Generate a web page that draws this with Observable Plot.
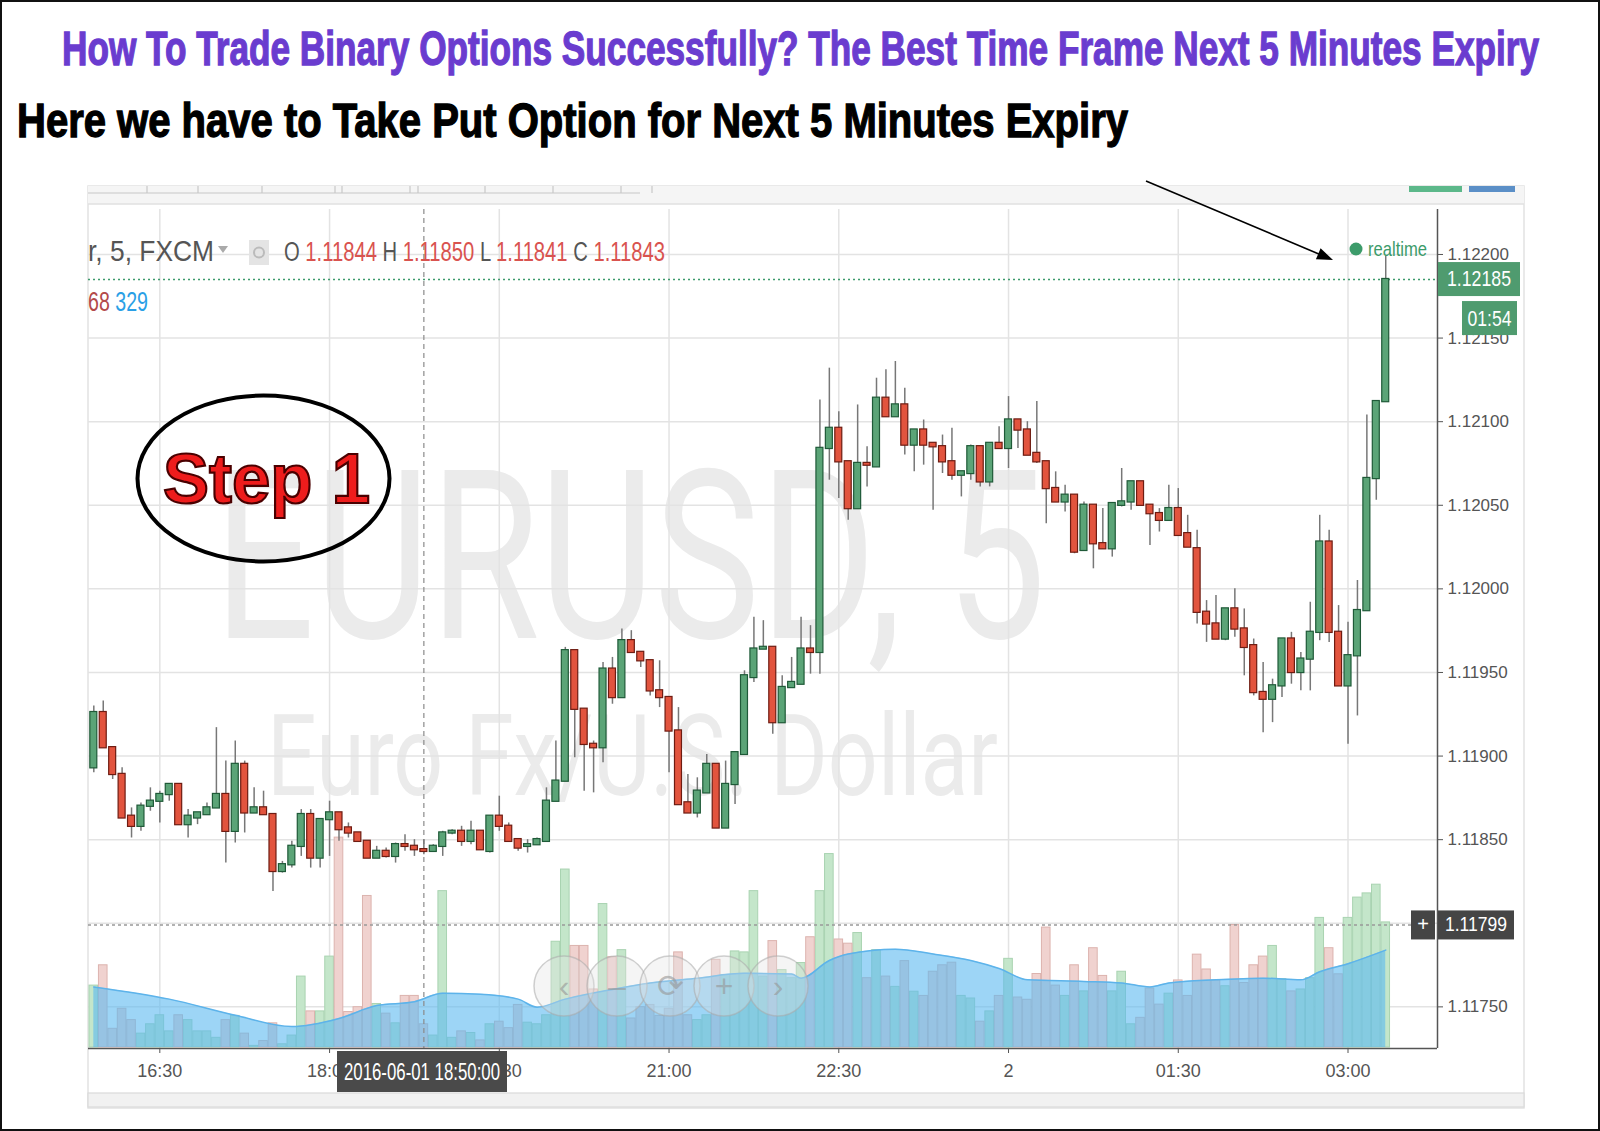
<!DOCTYPE html>
<html><head><meta charset="utf-8">
<script src="https://cdn.jsdelivr.net/npm/d3@7"></script>
<script src="https://cdn.jsdelivr.net/npm/@observablehq/plot@0.6"></script>
<style>
html,body{margin:0;padding:0;background:#fff;}
#page{position:relative;width:1600px;height:1131px;overflow:hidden;background:#fff;font-family:"Liberation Sans",Arial,sans-serif;}
.layer{position:absolute;left:0;top:0;}
</style></head><body><div id="page"></div>
<script>
// ---------- DATA ----------
const titleText = "How To Trade Binary Options Successfully? The Best Time Frame Next 5 Minutes Expiry";
const subtitleText = "Here we have to Take Put Option for Next 5 Minutes Expiry";
const symbolText = "r, 5, FXCM";
const watermark1 = "EURUSD, 5";
const watermark2 = "Euro Fx/U.S. Dollar";
const firstBar = "2016-06-01T15:55:00Z"; // 5-minute bars
const open = [1.11893,1.11926,1.11905,1.11889,1.11864,1.11858,1.11870,1.11873,1.11877,1.11883,
1.11859,1.11863,1.11865,1.11869,1.11877,1.11855,1.11895,1.11866,1.11869,1.11865,
1.11831,1.11835,1.11846,1.11865,1.11839,1.11862,1.11866,1.11857,1.11854,1.11849,
1.11839,1.11843,1.11840,1.11847,1.11846,1.11844,1.11843,1.11846,1.11854,1.11855,
1.11849,1.11855,1.11843,1.11864,1.11858,1.11850,1.11846,1.11847,1.11849,1.11873,
1.11885,1.11963,1.11928,1.11907,1.11905,1.11952,1.11935,1.11969,1.11962,1.11957,
1.11939,1.11935,1.11915,1.11872,1.11866,1.11878,1.11895,1.11857,1.11883,1.11901,
1.11947,1.11964,1.11965,1.11920,1.11941,1.11943,1.11964,1.11962,1.12084,1.12096,
1.12076,1.12048,1.12075,1.12073,1.12114,1.12103,1.12110,1.12086,1.12095,1.12087,
1.12085,1.12076,1.12068,1.12069,1.12085,1.12064,1.12087,1.12084,1.12101,1.12095,
1.12081,1.12076,1.12060,1.12052,1.12056,1.12023,1.12050,1.12027,1.12024,1.12050,
1.12052,1.12064,1.12050,1.12045,1.12041,1.12048,1.12033,1.12024,1.11986,1.11979,
1.11970,1.11988,1.11976,1.11966,1.11938,1.11934,1.11942,1.11970,1.11950,1.11958,
1.11974,1.12028,1.11974,1.11942,1.11960,1.11987,1.12066,1.12112];
const high = [1.11930,1.11933,1.11905,1.11893,1.11869,1.11872,1.11881,1.11879,1.11883,1.11883,
1.11868,1.11866,1.11872,1.11917,1.11897,1.11909,1.11897,1.11881,1.11879,1.11865,
1.11837,1.11849,1.11868,1.11868,1.11862,1.11873,1.11866,1.11860,1.11854,1.11849,
1.11846,1.11845,1.11848,1.11853,1.11850,1.11850,1.11847,1.11855,1.11856,1.11858,
1.11861,1.11855,1.11864,1.11876,1.11860,1.11850,1.11850,1.11851,1.11881,1.11909,
1.11965,1.11963,1.11928,1.11909,1.11956,1.11959,1.11976,1.11975,1.11962,1.11957,
1.11957,1.11935,1.11929,1.11889,1.11887,1.11901,1.11895,1.11897,1.11902,1.11951,
1.11983,1.11981,1.11965,1.11948,1.11959,1.11983,1.11978,1.12113,1.12132,1.12106,
1.12076,1.12110,1.12085,1.12126,1.12131,1.12136,1.12120,1.12095,1.12101,1.12087,
1.12092,1.12096,1.12070,1.12086,1.12085,1.12087,1.12097,1.12115,1.12101,1.12100,
1.12112,1.12076,1.12070,1.12062,1.12056,1.12052,1.12050,1.12048,1.12051,1.12072,
1.12064,1.12064,1.12050,1.12048,1.12062,1.12060,1.12044,1.12035,1.11993,1.11996,
1.11988,1.12000,1.11988,1.11970,1.11956,1.11946,1.11970,1.11974,1.11962,1.11992,
1.12044,1.12035,1.11990,1.11980,1.12005,1.12104,1.12112,1.12199];
const low = [1.11890,1.11905,1.11886,1.11863,1.11851,1.11855,1.11867,1.11860,1.11873,1.11859,
1.11851,1.11859,1.11865,1.11869,1.11836,1.11848,1.11854,1.11866,1.11865,1.11819,
1.11830,1.11833,1.11840,1.11833,1.11833,1.11840,1.11849,1.11851,1.11849,1.11839,
1.11839,1.11839,1.11836,1.11843,1.11840,1.11841,1.11843,1.11840,1.11853,1.11846,
1.11847,1.11844,1.11842,1.11855,1.11849,1.11843,1.11842,1.11847,1.11849,1.11873,
1.11885,1.11899,1.11879,1.11878,1.11896,1.11931,1.11935,1.11962,1.11953,1.11936,
1.11929,1.11890,1.11871,1.11866,1.11863,1.11878,1.11857,1.11857,1.11871,1.11901,
1.11944,1.11964,1.11913,1.11920,1.11941,1.11943,1.11949,1.11949,1.12065,1.12054,
1.12041,1.12048,1.12061,1.12073,1.12103,1.12103,1.12080,1.12070,1.12074,1.12047,
1.12069,1.12065,1.12055,1.12065,1.12061,1.12061,1.12084,1.12072,1.12084,1.12080,
1.12075,1.12039,1.12052,1.12046,1.12021,1.12023,1.12012,1.12024,1.12019,1.12049,
1.12047,1.12050,1.12026,1.12034,1.12041,1.12032,1.12025,1.11979,1.11968,1.11970,
1.11969,1.11971,1.11948,1.11936,1.11914,1.11920,1.11935,1.11943,1.11939,1.11939,
1.11969,1.11968,1.11942,1.11907,1.11924,1.11987,1.12053,1.12112];
const close = [1.11926,1.11905,1.11889,1.11863,1.11858,1.11870,1.11873,1.11877,1.11883,1.11859,
1.11864,1.11866,1.11869,1.11877,1.11855,1.11895,1.11866,1.11869,1.11865,1.11831,
1.11835,1.11846,1.11865,1.11839,1.11862,1.11866,1.11856,1.11854,1.11849,1.11839,
1.11843,1.11840,1.11847,1.11846,1.11844,1.11843,1.11846,1.11854,1.11855,1.11849,
1.11855,1.11844,1.11864,1.11858,1.11849,1.11845,1.11847,1.11850,1.11873,1.11885,
1.11963,1.11928,1.11907,1.11905,1.11952,1.11935,1.11969,1.11962,1.11957,1.11939,
1.11935,1.11915,1.11871,1.11866,1.11879,1.11895,1.11857,1.11883,1.11902,1.11948,
1.11964,1.11965,1.11920,1.11941,1.11944,1.11964,1.11962,1.12084,1.12096,1.12076,
1.12048,1.12075,1.12074,1.12114,1.12103,1.12110,1.12086,1.12095,1.12086,1.12085,
1.12076,1.12068,1.12070,1.12085,1.12064,1.12087,1.12084,1.12101,1.12095,1.12080,
1.12076,1.12060,1.12052,1.12056,1.12022,1.12050,1.12027,1.12024,1.12051,1.12052,
1.12064,1.12050,1.12045,1.12041,1.12048,1.12032,1.12025,1.11986,1.11979,1.11970,
1.11988,1.11976,1.11965,1.11938,1.11934,1.11942,1.11970,1.11950,1.11958,1.11974,
1.12028,1.11974,1.11942,1.11960,1.11987,1.12066,1.12112,1.12185];
const volume = [192,255,58,120,85,43,72,100,50,100,
85,50,50,30,85,98,43,5,20,75,
10,37,220,112,112,282,651,110,125,470,
135,105,75,160,160,72,37,485,30,50,
45,22,72,80,60,132,77,72,100,328,
552,315,315,180,445,280,302,90,125,132,
98,120,295,100,85,100,272,225,298,295,
485,220,330,240,215,262,342,485,600,335,
322,355,215,302,220,188,268,173,160,235,
255,263,160,152,80,112,160,275,155,148,
228,372,192,160,255,174,308,222,174,235,
72,92,183,133,167,208,160,288,242,208,
190,380,200,255,282,315,212,174,180,215,
402,308,227,402,465,478,505,388];
// volume moving average, read at selected bars (bar number, value)
const maBar = [0,8,15,21,26,30,34,37,41,45,47,50,55,59,64,69,74,75,78,80,85,89,93,96,99,105,109,112,114,119,124,128,130,133,137];
const maValue = [188,150,100,65,90,130,142,168,165,150,125,150,180,200,215,230,228,215,270,290,305,290,270,245,210,205,200,188,200,210,215,210,235,260,302];
const yTicks = [1.1175,1.118,1.1185,1.119,1.1195,1.12,1.1205,1.121,1.1215,1.122];
const xTickTimes = ["2016-06-01T16:30Z","2016-06-01T18:00Z","2016-06-01T19:30Z","2016-06-01T21:00Z","2016-06-01T22:30Z","2016-06-02T00:00Z","2016-06-02T01:30Z","2016-06-02T03:00Z"];
const xTickLabels = ["16:30","18:00","19:30","21:00","22:30","2","01:30","03:00"];
const crossBar = 35;            // crosshair bar (18:50)
const crossPrice = 1.11799;
const crossLabel = "2016-06-01 18:50:00";
const countdown = "01:54";
const studyValues = ["68","329"];

// ---------- BUILD ----------
const t0 = new Date(firstBar).getTime();
const bars = open.map((o,i)=>({t:new Date(t0+i*300000), o, h:high[i], l:low[i], c:close[i], v:volume[i]}));
const up = bars.filter(d=>d.c>=d.o), down = bars.filter(d=>d.c<d.o);
const ma = maBar.map((b,i)=>({t:new Date(t0+b*300000), v:maValue[i]}));
const xTicks = xTickTimes.map(s=>new Date(s));
const labelOf = new Map(xTicks.map((d,i)=>[+d, xTickLabels[i]]));
const xDomain = [new Date("2016-06-01T15:52:11Z"), new Date("2016-06-02T03:47:27Z")];
const yDomain = [1.117251, 1.122269];
const f5 = d3.format(".5f");
const half = 111000, vhalf = 137000;
const font = '"Liberation Sans", Arial, sans-serif';
const page = document.getElementById("page");
const base = {width:1600, height:1131, marginLeft:88, marginRight:163, marginTop:209, marginBottom:83,
  style:{background:"transparent", fontFamily:font, overflow:"visible"}};
function addLayer(node){ const d=document.createElement("div"); d.className="layer"; d.appendChild(node); page.appendChild(d); }
function addSvg(str){ const d=document.createElement("div"); d.className="layer"; d.innerHTML=str; page.appendChild(d); }

// background layer
addSvg(`<svg width="1600" height="1131" font-family='${font}'>
<rect x="0" y="0" width="1600" height="1131" fill="#fff"/>
<rect x="88" y="186" width="1436" height="922" fill="#fff" stroke="#e2e2e2" stroke-width="1.5"/>
<rect x="88" y="186" width="1436" height="18" fill="#f5f5f5"/>
<line x1="88" y1="204" x2="1524" y2="204" stroke="#e0e0e0" stroke-width="1.5"/>
<path d="M88,193 H640 M147,186 V193 M198,186 V193 M262,186 V193 M335,186 V193 M342,186 V193 M410,186 V193 M418,186 V193 M485,186 V193 M553,186 V193 M621,186 V193 M652,186 V193" stroke="#c8c8c8" fill="none" stroke-width="1.2"/>
<rect x="1409" y="186" width="53" height="6" fill="#5cb88a"/>
<rect x="1469" y="186" width="46" height="6" fill="#5b8fc7"/>
<text x="214" y="638" font-family="Roboto, sans-serif" font-size="235" fill="#ebebeb" textLength="832" lengthAdjust="spacingAndGlyphs">${watermark1}</text>
<text x="267" y="795" font-family="Roboto, sans-serif" font-size="113" fill="#ebebeb" textLength="731" lengthAdjust="spacingAndGlyphs">${watermark2}</text>
</svg>`);

// grid layer
addLayer(Plot.plot({...base, x:{type:"utc", domain:xDomain, axis:null}, y:{domain:yDomain, axis:null},
  marks:[
    Plot.gridX(xTicks, {stroke:"#e3e3e3", strokeOpacity:1, strokeWidth:1.5}),
    Plot.gridY(yTicks, {stroke:"#e3e3e3", strokeOpacity:1, strokeWidth:1.5})
  ]}));

// volume layer
addLayer(Plot.plot({...base, marginTop:724.6, marginBottom:84,
  x:{type:"utc", domain:xDomain, axis:null}, y:{domain:[0,1000], axis:null},
  marks:[
    Plot.rect(up, {x1:d=>new Date(+d.t-vhalf), x2:d=>new Date(+d.t+vhalf), y1:()=>0, y2:"v", fill:"#c4e6ca", stroke:"#a9d3b1", strokeWidth:1}),
    Plot.rect(down, {x1:d=>new Date(+d.t-vhalf), x2:d=>new Date(+d.t+vhalf), y1:()=>0, y2:"v", fill:"#f0d2cf", stroke:"#dcb3ae", strokeWidth:1}),
    Plot.areaY(ma, {x:"t", y:"v", curve:"monotone-x", fill:"#5cb9f0", fillOpacity:0.6}),
    Plot.lineY(ma, {x:"t", y:"v", curve:"monotone-x", stroke:"#5db3ea", strokeWidth:1.5})
  ]}));

// price layer
const crossT = bars[crossBar].t;
const last = bars[bars.length-1];
addLayer(Plot.plot({...base, x:{type:"utc", domain:xDomain}, y:{domain:yDomain},
  marks:[
    Plot.ruleX([crossT], {stroke:"#8a8a8a", strokeDasharray:"5,4", strokeWidth:1.2}),
    Plot.ruleY([crossPrice], {stroke:"#999", strokeDasharray:"3,3", strokeWidth:1.5}),
    Plot.ruleY([last.c], {stroke:"#3d9a6c", strokeDasharray:"2,3", strokeWidth:1.5}),
    Plot.ruleX(bars, {x:"t", y1:"l", y2:"h", stroke:"#777", strokeWidth:1.5}),
    Plot.rect(up, {x1:d=>new Date(+d.t-half), x2:d=>new Date(+d.t+half), y1:"o", y2:"c", fill:"#5ba477", stroke:"#1f5a38", strokeWidth:1.2, insetTop:-0.6, insetBottom:-0.6}),
    Plot.rect(down, {x1:d=>new Date(+d.t-half), x2:d=>new Date(+d.t+half), y1:"o", y2:"c", fill:"#e2543e", stroke:"#6e1c12", strokeWidth:1.2, insetTop:-0.6, insetBottom:-0.6}),
    Plot.ruleY([yDomain[0]], {stroke:"#555", strokeWidth:1.5}),
    Plot.ruleX([xDomain[1]], {stroke:"#555", strokeWidth:1.5}),
    Plot.axisY(yTicks, {anchor:"right", tickFormat:f5, tickSize:5, tickPadding:5, fontSize:17, color:"#555", label:null}),
    Plot.axisX(xTicks, {anchor:"bottom", tickFormat:d=>labelOf.get(+d), tickSize:5, tickPadding:11, fontSize:18, color:"#555", label:null})
  ]}));

// overlay layer
const b = bars[crossBar];
const yPix = p => 209 + (yDomain[1]-p)/(yDomain[1]-yDomain[0])*839;
const lp = yPix(last.c), cp = yPix(crossPrice);
const navs = [["‹",564],["–",617],["⟳",670],["+",724],["›",778]];
addSvg(`<svg width="1600" height="1131" font-family='${font}'>
<rect x="1" y="1" width="1598" height="1129" fill="none" stroke="#111" stroke-width="2"/>
<text x="62" y="65" font-size="48" font-weight="bold" fill="#6a3ccf" stroke="#6a3ccf" stroke-width="1.3" textLength="1477" lengthAdjust="spacingAndGlyphs">${titleText}</text>
<text x="17" y="137" font-size="48" font-weight="bold" fill="#000" stroke="#000" stroke-width="1.3" textLength="1111" lengthAdjust="spacingAndGlyphs">${subtitleText}</text>
<text x="88" y="261" font-size="30" fill="#555" textLength="126" lengthAdjust="spacingAndGlyphs">${symbolText}</text>
<path d="M218,246 L228,246 L223,253 Z" fill="#aaa"/>
<rect x="249" y="240" width="20" height="25" fill="#e4e4e4"/>
<circle cx="259" cy="252.5" r="5" fill="none" stroke="#bbb" stroke-width="2"/>
<text x="284" y="261" font-size="27" textLength="381" lengthAdjust="spacingAndGlyphs"><tspan fill="#555">O </tspan><tspan fill="#d9534f">${f5(b.o)} </tspan><tspan fill="#555">H </tspan><tspan fill="#d9534f">${f5(b.h)} </tspan><tspan fill="#555">L </tspan><tspan fill="#d9534f">${f5(b.l)} </tspan><tspan fill="#555">C </tspan><tspan fill="#d9534f">${f5(b.c)}</tspan></text>
<text x="88" y="311" font-size="28" textLength="60" lengthAdjust="spacingAndGlyphs"><tspan fill="#b34a4a">${studyValues[0]} </tspan><tspan fill="#2a9fe6">${studyValues[1]}</tspan></text>
<circle cx="1356" cy="249" r="6.5" fill="#3c9b6a"/>
<text x="1368" y="256" font-size="21" fill="#3c9b6a" textLength="59" lengthAdjust="spacingAndGlyphs">realtime</text>
<rect x="1438" y="${lp-17}" width="82" height="34" fill="#4f9b6f"/>
<text x="1479" y="${lp+7}" font-size="22" fill="#fff" text-anchor="middle" textLength="64" lengthAdjust="spacingAndGlyphs">${f5(last.c)}</text>
<rect x="1462" y="${lp+22}" width="55" height="34" fill="#4f9b6f"/>
<text x="1489.5" y="${lp+47}" font-size="22" fill="#fff" text-anchor="middle" textLength="44" lengthAdjust="spacingAndGlyphs">${countdown}</text>
<rect x="1411" y="${cp-14}" width="24" height="29" fill="#454545"/>
<text x="1423" y="${cp+7}" font-size="20" fill="#fff" text-anchor="middle">+</text>
<rect x="1438" y="${cp-14}" width="76" height="29" fill="#454545"/>
<text x="1476" y="${cp+7}" font-size="21" fill="#fff" text-anchor="middle" textLength="62" lengthAdjust="spacingAndGlyphs">${f5(crossPrice)}</text>
<rect x="337" y="1051" width="170" height="41" fill="#4a4a4a"/>
<text x="422" y="1080" font-size="23" fill="#fff" text-anchor="middle" textLength="156" lengthAdjust="spacingAndGlyphs">${crossLabel}</text>
<rect x="88" y="1093" width="1436" height="14" fill="#f1f1f1" stroke="#dadada" stroke-width="1.2"/>
${navs.map(([s,x])=>`<circle cx="${x}" cy="986" r="30" fill="rgba(225,225,225,0.35)" stroke="rgba(170,170,170,0.55)" stroke-width="1.5"/><text x="${x}" y="997" font-size="32" fill="rgba(150,150,150,0.6)" text-anchor="middle">${s}</text>`).join("")}
<ellipse cx="263.5" cy="478.5" rx="126" ry="83" fill="none" stroke="#000" stroke-width="4"/>
<text x="163" y="503" font-size="70" font-weight="bold" fill="#ee1c1c" stroke="#4a0000" stroke-width="2.2" textLength="207" lengthAdjust="spacingAndGlyphs">Step 1</text>
<line x1="1146" y1="181" x2="1320" y2="254.5" stroke="#000" stroke-width="1.6"/>
<path d="M1333,260 L1315.9,259.3 L1320.6,248.3 Z" fill="#000"/>
</svg>`);
</script></body></html>
